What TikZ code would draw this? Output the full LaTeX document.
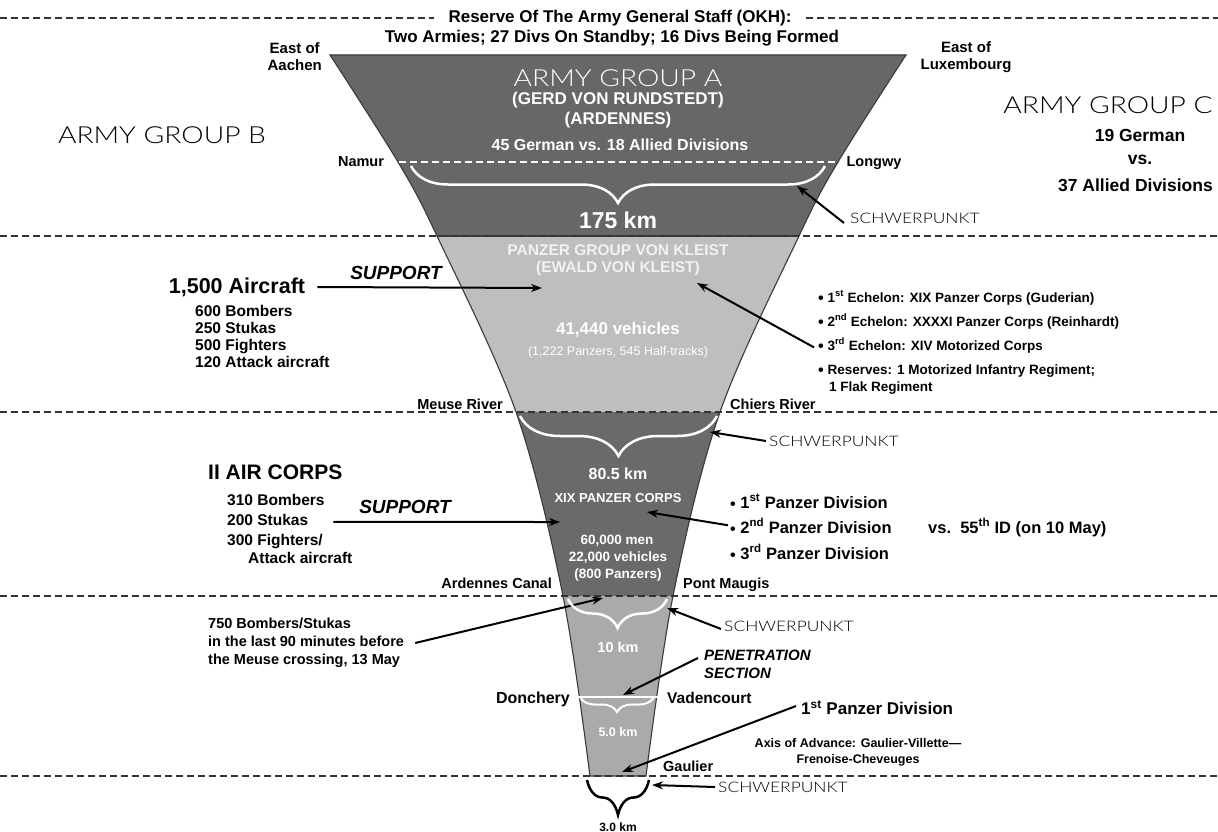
\documentclass[tikz,border=0pt]{standalone}
\usepackage{fontspec}
\setmainfont{Liberation Sans}
\newfontfamily\lightf{Lato Light}[FakeStretch=1.2]
\usetikzlibrary{arrows.meta,decorations.pathreplacing}
\definecolor{layA}{HTML}{676767}
\definecolor{layB}{HTML}{BEBEBE}
\definecolor{layC}{HTML}{6A6A6A}
\definecolor{layD}{HTML}{AAAAAA}
\definecolor{edgec}{HTML}{3A3A3A}
\definecolor{paletxt}{HTML}{F2F2F2}
\newcommand\fsz[2]{\fontsize{#1}{#2}\selectfont}
\newcommand\bul{\raisebox{-1.2pt}{\fsz{16}{16}\textbullet}}
\begin{document}
\begin{tikzpicture}[x=1pt,y=-1pt,
  every node/.style={inner sep=0pt},
  bt/.style={font=\bfseries\fsz{#1}{#1}},
  bt/.default=12,
  wt/.style={font=\bfseries\fsz{#1}{#1},text=white},
  lt/.style={font=\lightf\fsz{#1}{#1}},
  dline/.style={line width=1.6pt,draw=black!80,dash pattern=on 7pt off 4pt},
  arr/.style={line width=2pt,-{Stealth[length=11pt,width=8pt]}},
  wbrace/.style={decorate,decoration={brace,mirror,amplitude=#1},line width=2.5pt,white},
  kbrace/.style={decorate,decoration={brace,mirror,amplitude=#1},line width=2.5pt,black}
]
\useasboundingbox[fill=white] (0,0) rectangle (1218,832);

% ---------- funnel ----------
\begin{scope}
\clip plot[smooth,tension=0.55] coordinates {(330,55) (398,162) (437,236) (516,412) (563,596) (590,776)}
  -- plot[smooth,tension=0.55] coordinates {(646,776) (673,596) (720,412) (799,236) (838,162) (906,55)} -- cycle;
\fill[layA] (0,50) rectangle (1218,236);
\fill[layB] (0,236) rectangle (1218,412);
\fill[layC] (0,412) rectangle (1218,596);
\fill[layD] (0,596) rectangle (1218,780);
\draw[edgec,line width=1.2pt] (0,236) -- (1218,236);
\end{scope}
\draw[edgec,line width=1.1pt] plot[smooth,tension=0.55] coordinates {(330,55) (398,162) (437,236) (516,412) (563,596) (590,776)}
  -- plot[smooth,tension=0.55] coordinates {(646,776) (673,596) (720,412) (799,236) (838,162) (906,55)} -- cycle;

% ---------- dashed section lines ----------
\node[bt=17,inner xsep=14pt] (okh1) at (620,18) {Reserve Of The Army General Staff (OKH):};
\node[bt=17] (okh2) at (612,38) {Two Armies; 27 Divs On Standby; 16 Divs Being Formed};
\coordinate (d0l) at (0,18); \coordinate (d0r) at (1218,18);
\draw[dline] (d0l) -- (okh1.west);
\draw[dline] (okh1.east) -- (d0r);
\coordinate (d1l) at (0,236); \coordinate (d1r) at (1218,236);
\coordinate (d2l) at (0,412); \coordinate (d2r) at (1218,412);
\coordinate (d3l) at (0,596); \coordinate (d3r) at (1218,596);
\coordinate (d4l) at (0,776); \coordinate (d4r) at (1218,776);
\draw[dline] (d1l) -- (d1r);
\draw[dline] (d2l) -- (d2r);
\draw[dline] (d3l) -- (d3r);
\draw[dline] (d4l) -- (d4r);

% ---------- Army Group A band ----------
\node[anchor=east,align=center,font=\bfseries\fsz{15}{17}] (aachen) at (322,57) {East of\\Aachen};
\node[align=center,font=\bfseries\fsz{15}{17}] (luxem) at (966,57) {East of\\Luxembourg};
\node[lt=23.5,text=white] (aga) at (618,78) {ARMY GROUP A};
\node[wt=17] (rund) at (618,100) {(GERD VON RUNDSTEDT)};
\node[wt=17] (arden) at (618,120) {(ARDENNES)};
\node[wt=16] (g45) at (620,145) {45 German vs. 18 Allied Divisions};
\node[bt=14.5,anchor=base] (namur) at (361,167) {Namur};
\node[bt=14.5,anchor=base] (longwy) at (874,167) {Longwy};
\coordinate (nl) at (399,162); \coordinate (nr) at (837,162);
\draw[white,line width=1.6pt,dash pattern=on 7pt off 4pt] (nl) -- (nr);
\coordinate (b1l) at (411,166); \coordinate (b1r) at (825,166);
\draw[wbrace=37pt] (b1l) -- (b1r);
\node[wt=23] (km175) at (618,220) {175 km};
\node[lt=14.5,anchor=west] (sp1) at (850,218) {SCHWERPUNKT};
\coordinate (t1) at (797,186);
\draw[arr] ([shift={(-6pt,-5pt)}]sp1.west) -- (t1);

\node[lt=23.5] (agb) at (162,135) {ARMY GROUP B};
\node[lt=23.5] (agc) at (1108,105) {ARMY GROUP C};
\node[bt=17.5] (c19) at (1140,135) {19 German};
\node[bt=17.5] (cvs) at (1140,160) {vs.};
\node[bt=17.5,anchor=east] (c37) at (1213,185) {37 Allied Divisions};

% ---------- Panzer Group band ----------
\node[bt=15.5,text=paletxt] (pg1) at (618,250) {PANZER GROUP VON KLEIST};
\node[bt=15.5,text=paletxt] (pg2) at (618,268) {(EWALD VON KLEIST)};
\node[wt=17] (veh) at (618,330) {41,440 vehicles};
\node[font=\fsz{12.5}{12.5},text=white] (vehd) at (618,352) {(1,222 Panzers, 545 Half-tracks)};
\node[bt=21.5] (air) at (237,287) {1,500 Aircraft};
\node[font=\bfseries\itshape\fsz{19}{19}] (sup1) at (396,273) {SUPPORT};
\coordinate (t2) at (542,288);
\draw[arr] ([xshift=12pt]air.east) -- (t2);
\node[bt=15.5,anchor=base west] (a1) at (195,316.5) {600 Bombers};
\node[bt=15.5,anchor=base west] (a2) at (195,333.5) {250 Stukas};
\node[bt=15.5,anchor=base west] (a3) at (195,350.5) {500 Fighters};
\node[bt=15.5,anchor=base west] (a4) at (195,367.5) {120 Attack aircraft};
\node[bt=13.5,anchor=base west] (e1) at (818,302) {\bul{} 1\textsuperscript{st} Echelon: XIX Panzer Corps (Guderian)};
\node[bt=13.5,anchor=base west] (e2) at (818,326) {\bul{} 2\textsuperscript{nd} Echelon: XXXXI Panzer Corps (Reinhardt)};
\node[bt=13.5,anchor=base west] (e3) at (818,350) {\bul{} 3\textsuperscript{rd} Echelon: XIV Motorized Corps};
\node[bt=13.5,anchor=base west] (e4) at (818,374) {\bul{} Reserves: 1 Motorized Infantry Regiment;};
\node[bt=13.5,anchor=base west] (e5) at (829,391) {1 Flak Regiment};
\coordinate (t3) at (697,283);
\draw[arr] ([shift={(-4pt,-2pt)}]e3.west) -- (t3);
\node[bt=14.5,anchor=base east] (meuse) at (503,409) {Meuse River};
\node[bt=14.5,anchor=base west] (chiers) at (730,409) {Chiers River};

% ---------- XIX Panzer Corps band ----------
\coordinate (b2l) at (520,416); \coordinate (b2r) at (717,416);
\draw[wbrace=40pt] (b2l) -- (b2r);
\node[lt=14.5,anchor=west] (sp2) at (769,441) {SCHWERPUNKT};
\coordinate (t4) at (710,432);
\draw[arr] ([xshift=-3pt]sp2.west) -- (t4);
\node[wt=16] (km80) at (618,474) {80.5 km};
\node[wt=13] (xix) at (618,498) {XIX PANZER CORPS};
\node[wt=13.5] (men) at (617,541) {60,000 men};
\node[wt=13.5] (veh2) at (618,558) {22,000 vehicles};
\node[wt=13.5] (pz800) at (618,575) {(800 Panzers)};
\node[bt=21,anchor=west] (iiair) at (208,472) {II AIR CORPS};
\node[bt=15.5,anchor=base west] (f1) at (227,505.5) {310 Bombers};
\node[bt=15.5,anchor=base west] (f2) at (227,525.5) {200 Stukas};
\node[bt=15.5,anchor=base west] (f3) at (227,545.5) {300 Fighters/};
\node[bt=15.5,anchor=base west] (f4) at (248,563.5) {Attack aircraft};
\node[font=\bfseries\itshape\fsz{19}{19}] (sup2) at (405,507) {SUPPORT};
\coordinate (t5) at (560,522);
\draw[arr] ([shift={(25pt,-2pt)}]f2.east) -- (t5);
\node[bt=16.5,anchor=base west] (p1) at (730,508) {\bul{} 1\textsuperscript{st} Panzer Division};
\node[bt=16.5,anchor=base west] (p2) at (730,533) {\bul{} 2\textsuperscript{nd} Panzer Division};
\node[bt=16.5,anchor=base west] (p3) at (730,559) {\bul{} 3\textsuperscript{rd} Panzer Division};
\node[bt=16.5,anchor=base west] (vs55) at (928,533) {vs.\ \ 55\textsuperscript{th} ID (on 10 May)};
\coordinate (t6) at (647,512);
\draw[arr] ([shift={(-2pt,1pt)}]p2.west) -- (t6);
\node[bt=14.5,anchor=base east] (canal) at (552,588) {Ardennes Canal};
\node[bt=14.5,anchor=base west] (maugis) at (683,588) {Pont Maugis};

% ---------- Penetration band ----------
\node[anchor=west,align=left,font=\bfseries\fsz{14.5}{18}] (b750) at (208,643) {750 Bombers/Stukas\\in the last 90 minutes before\\the Meuse crossing, 13 May};
\coordinate (t7) at (603,598);
\draw[arr] ([xshift=11pt]b750.east) -- (t7);
\coordinate (b3l) at (568,599); \coordinate (b3r) at (667,599);
\draw[wbrace=29pt] (b3l) -- (b3r);
\node[lt=14.5,anchor=west] (sp3) at (724,626) {SCHWERPUNKT};
\coordinate (t8) at (667,608);
\draw[arr] ([shift={(-3pt,-3pt)}]sp3.west) -- (t8);
\node[wt=14.5] (km10) at (618,647) {10 km};
\node[anchor=west,align=left,font=\bfseries\itshape\fsz{15}{18}] (pen) at (704,664) {PENETRATION\\SECTION};
\coordinate (t9) at (623,695);
\draw[arr] ([shift={(-6pt,6pt)}]pen.west) -- (t9);
\node[bt=16,anchor=base east] (donch) at (570,703) {Donchery};
\node[bt=15.5,anchor=base west] (vaden) at (667,703) {Vadencourt};
\coordinate (wl) at (571,697); \coordinate (wr) at (658,697);
\draw[white,line width=2pt] (wl) -- (wr);
\coordinate (b4l) at (580,697); \coordinate (b4r) at (654,697);
\draw[wbrace=15pt,line width=2pt] (b4l) -- (b4r);
\node[wt=12.5] (km5) at (618,732) {5.0 km};
\node[bt=17,anchor=west] (pd1) at (801,708) {1\textsuperscript{st} Panzer Division};
\coordinate (t10) at (622,772);
\draw[arr] ([shift={(-5pt,2pt)}]pd1.west) -- (t10);
\node[align=center,font=\bfseries\fsz{12.5}{16}] (axis) at (858,752) {Axis of Advance: Gaulier-Villette—\\Frenoise-Cheveuges};
\node[bt=14.5,anchor=base west] (gaulier) at (663,771) {Gaulier};

% ---------- bottom ----------
\coordinate (b5l) at (587,780); \coordinate (b5r) at (649,780);
\draw[kbrace=35pt] (b5l) -- (b5r);
\node[lt=14.5,anchor=west] (sp4) at (718,787) {SCHWERPUNKT};
\coordinate (t11) at (652,785);
\draw[arr] ([xshift=-3pt]sp4.west) -- (t11);
\node[bt=12] (km3) at (618,827) {3.0 km};
\end{tikzpicture}
\end{document}
